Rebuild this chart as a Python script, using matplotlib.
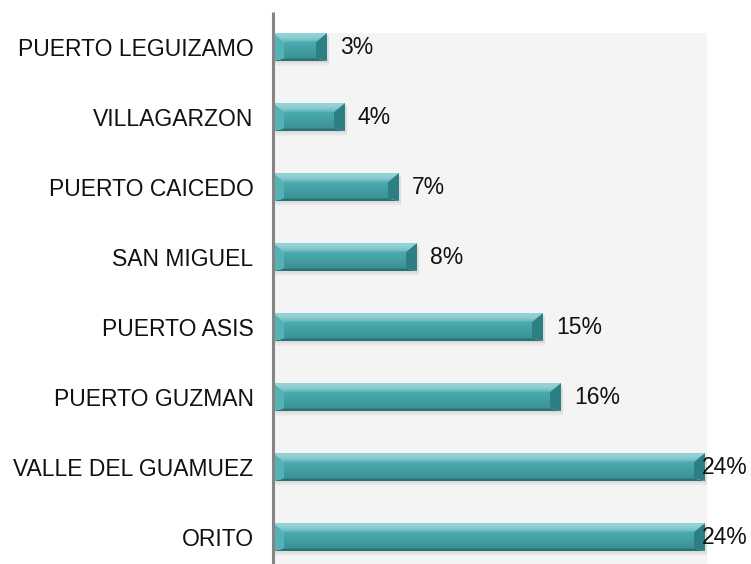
import matplotlib
matplotlib.use("Agg")
import matplotlib.pyplot as plt
from matplotlib.patches import Polygon, Rectangle
from matplotlib.colors import to_rgb
import numpy as np

# Municipalities (bottom to top) and their shares in percent
municipios = ["ORITO", "VALLE DEL GUAMUEZ", "PUERTO GUZMAN", "PUERTO ASIS",
              "SAN MIGUEL", "PUERTO CAICEDO", "VILLAGARZON", "PUERTO LEGUIZAMO"]
porcentajes = [24, 24, 16, 15, 8, 7, 4, 3]
etiquetas = [f"{v}%" for v in porcentajes]

W, H, DPI = 751, 564, 100
fig = plt.figure(figsize=(W / DPI, H / DPI), dpi=DPI)
fig.patch.set_facecolor("white")

ax_left, ax_right = 273, 707
ax = fig.add_axes([ax_left / W, 0, (ax_right - ax_left) / W, 1])
ax.set_facecolor("white")

px_per_unit_x = 18.0
xmax = (ax_right - ax_left) / px_per_unit_x
row_px = 70.0
first_center_px = 537.0  # pixel row of the bottom category centre (from top)
ymin = -(H - first_center_px) / row_px
ymax = first_center_px / row_px
ax.set_xlim(0, xmax)
ax.set_ylim(ymin, ymax)

# light gray plot region
gray_top = (first_center_px - 33) / row_px
ax.add_patch(Rectangle((0, ymin), xmax, gray_top - ymin, facecolor="#f4f4f4",
                       edgecolor="none", zorder=0))


def mix(c1, c2, t):
    a, b = np.array(to_rgb(c1)), np.array(to_rgb(c2))
    return tuple(a + (b - a) * t)


bar_h = 0.40
bev_x = 11 / px_per_unit_x
bev_top = 9 / row_px
bev_bot = 2.5 / row_px
face_hi, face_lo = "#4aabaf", "#3a9195"
top_hi, top_lo = "#8fd6da", "#55b4b8"
c_bot = "#2a7175"
c_left = "#52b2b6"
c_right = "#2e7f83"
n = 8

for i, v in enumerate(porcentajes):
    y0, y1 = i - bar_h / 2, i + bar_h / 2
    # soft shadow
    for k, a in enumerate([0.10, 0.06, 0.03]):
        off = (2 + 1.5 * k) / row_px
        ax.add_patch(Rectangle((0.1, y0 - off), v, bar_h, facecolor="#7a7a7a",
                               edgecolor="none", alpha=a, zorder=1))
    bx = min(bev_x, v / 3)
    # face with vertical gradient
    ya, yb = y0 + bev_bot, y1 - bev_top
    for k in range(n):
        s0 = ya + (yb - ya) * k / n
        s1 = ya + (yb - ya) * (k + 1) / n
        ax.add_patch(Rectangle((0, s0), v, s1 - s0 + 1e-4,
                               facecolor=mix(face_lo, face_hi, (k + 0.5) / n),
                               edgecolor="none", zorder=2))
    # top bevel with gradient
    for k in range(n):
        t0, t1 = k / n, (k + 1) / n
        ya_, yb_ = y1 - bev_top * t1, y1 - bev_top * t0
        xa, xb = bx * t1, bx * t0
        ax.add_patch(Polygon([(xb, yb_), (v - xb, yb_), (v - xa, ya_), (xa, ya_)],
                             closed=True, facecolor=mix(top_hi, top_lo, (k + 0.5) / n),
                             edgecolor="none", zorder=3))
    # bottom bevel
    ax.add_patch(Polygon([(0, y0), (v, y0), (v - bx, ya), (bx, ya)],
                         closed=True, facecolor=c_bot, edgecolor="none", zorder=3))
    # left bevel
    ax.add_patch(Polygon([(0, y0), (0, y1), (bx, yb), (bx, ya)],
                         closed=True, facecolor=c_left, edgecolor="none", zorder=3))
    # right bevel
    ax.add_patch(Polygon([(v, y0), (v, y1), (v - bx, yb), (v - bx, ya)],
                         closed=True, facecolor=c_right, edgecolor="none", zorder=3))

# value labels
label_font = dict(family="Liberation Sans", fontsize=16.5, color="#111111")
max_x = (702 - ax_left) / px_per_unit_x
for i, (v, t) in enumerate(zip(porcentajes, etiquetas)):
    x = min(v + 13 / px_per_unit_x, max_x)
    ax.text(x, i, t, ha="left", va="center", zorder=5, clip_on=False, **label_font)

# category labels
ax.set_yticks(range(len(municipios)))
ax.set_yticklabels(municipios, **label_font)
ax.tick_params(axis="y", length=0, pad=14)
ax.set_xticks([])

for s in ["top", "right", "bottom", "left"]:
    ax.spines[s].set_visible(False)

# vertical category axis line
axis_top = (first_center_px - 12) / row_px
ax.plot([0, 0], [ymin, axis_top], color="#858585", lw=2.2, zorder=6,
        solid_capstyle="butt", clip_on=False)

fig.savefig("out.png", dpi=DPI)
